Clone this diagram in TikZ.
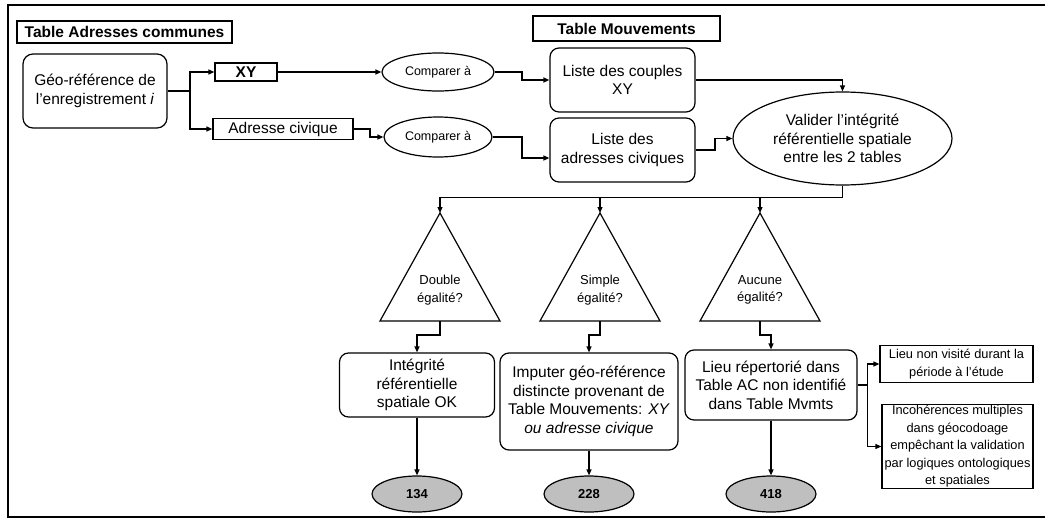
\documentclass[tikz,border=0pt]{standalone}
\usepackage{fontspec}
\setmainfont{Liberation Sans}
\usetikzlibrary{arrows.meta,shapes.geometric}
\begin{document}
\begin{tikzpicture}[x=1pt,y=-1pt,
  line width=1.2pt,
  font=\fontsize{15.5}{18.5}\selectfont,
  arr/.style={-{Triangle[length=6pt,width=5pt]}},
  box/.style={draw,rectangle,inner sep=1pt,align=center},
  rbox/.style={box,rounded corners=9pt},
  title/.style={box,font=\fontsize{15.5}{18}\selectfont\bfseries},
  cmp/.style={draw,ellipse,inner sep=0pt,align=center,font=\fontsize{12.5}{15}\selectfont},
  num/.style={draw,ellipse,fill=gray!50,inner sep=0pt,minimum width=90pt,minimum height=36pt,font=\fontsize{13}{15}\selectfont\bfseries},
  note/.style={box,font=\fontsize{12.8}{17.5}\selectfont},
  qtext/.style={align=center,inner sep=0pt,font=\fontsize{13}{17.5}\selectfont}]
\useasboundingbox (0,0) rectangle (1045,525);

% outer frame (open on the right)
\draw[line width=1.6pt] (1045,5) -- (8,5) -- (8,517) -- (1045,517);

% table titles
\node[title,minimum width=215pt,minimum height=22pt] (tac) at (124.5,32) {Table Adresses communes};
\node[title,minimum width=187pt,minimum height=25pt] (tmv) at (626.5,28.5) {Table Mouvements};

% source record and its two keys
\node[rbox,rounded corners=10pt,minimum width=144pt,minimum height=74pt] (geo) at (95,91)
  {Géo-référence de\\l'enregistrement \textit{i}};
\node[box,font=\fontsize{15.5}{18}\selectfont\bfseries,minimum width=62pt,minimum height=18pt] (xy) at (246,72) {XY};
\node[box,minimum width=140pt,minimum height=21pt] (adr) at (283,129) {Adresse civique};

% comparisons
\node[cmp,minimum width=112pt,minimum height=38pt] (cmp1) at (438,72) {Comparer à};
\node[cmp,minimum width=108pt,minimum height=40pt] (cmp2) at (438,137) {Comparer à};

% lists from the movements table
\node[rbox,minimum width=145pt,minimum height=64pt] (lxy) at (622.5,80) {Liste des couples\\XY};
\node[rbox,minimum width=145pt,minimum height=64pt] (lad) at (622.5,150) {Liste des\\adresses civiques};

% validation
\node[draw,ellipse,inner sep=0pt,align=center,minimum width=219pt,minimum height=93pt] (big) at (842.5,138.5)
  {Valider l'intégrité\\référentielle spatiale\\entre les 2 tables};

% decision triangles
\coordinate (t1a) at (440,213); \coordinate (t1b) at (440,321);
\coordinate (t2a) at (600,213); \coordinate (t2b) at (600,321);
\coordinate (t3a) at (760,213); \coordinate (t3b) at (760,321);
\draw (t1a) -- ++(60,108) -- ++(-120,0) -- cycle;
\draw (t2a) -- ++(60,108) -- ++(-120,0) -- cycle;
\draw (t3a) -- ++(60,108) -- ++(-120,0) -- cycle;
\node[qtext] (q1) at (440,290) {Double\\égalité?};
\node[qtext] (q2) at (600,290) {Simple\\égalité?};
\node[qtext] (q3) at (760,290) {Aucune\\égalité?};

% outcomes
\node[rbox,minimum width=155pt,minimum height=64pt] (res1) at (417,385)
  {Intégrité\\référentielle\\spatiale OK};
\node[rbox,minimum width=178pt,minimum height=97pt] (res2) at (589,401.5)
  {Imputer géo-référence\\distincte provenant de\\Table Mouvements: \textit{XY}\\\textit{ou adresse civique}};
\node[rbox,minimum width=172pt,minimum height=70pt] (res3) at (771,385)
  {Lieu répertorié dans\\Table AC non identifié\\dans Table Mvmts};

\node[note,minimum width=153pt,minimum height=37pt] (r1) at (956.5,364)
  {Lieu non visité durant la\\période à l'étude};
\node[note,minimum width=151pt,minimum height=77pt] (r2) at (957.5,446.5)
  {Incohérences multiples\\dans géocodoage\\empêchant la validation\\par logiques ontologiques\\et spatiales};

% counts
\node[num] (n134) at (417,494) {134};
\node[num] (n228) at (589,494) {228};
\node[num] (n418) at (771,494) {418};

% connectors
\coordinate (split) at (190,91);
\draw (geo.east) -- (split);
\draw[arr] (split) |- (xy.west);
\draw[arr] (split) |- (adr.west);
\draw[arr] (xy.east) -- (cmp1.west);
\draw[arr] (adr.east) -- (370,129) |- (cmp2.west);
\draw[arr] (cmp1.east) -- (522,72) |- (lxy.west);
\draw[arr] (cmp2.east) -- (522,137) |- ([yshift=-8pt]lad.west);
\draw[arr] (lxy.east) -| (big.north);
\draw[arr] (lad.east) -- (715,150) |- (big.west);
\draw[arr] (big.south) -- ++(0,12) -| (t1a);
\draw[arr] (big.south) -- ++(0,12) -| (t2a);
\draw[arr] (big.south) -- ++(0,12) -| (t3a);
\draw[arr] (t1b) -- ++(0,14) -| (res1.north);
\draw[arr] (t2b) -- ++(0,14) -| (res2.north);
\draw[arr] (t3b) -- ++(0,14) -| (res3.north);
\draw[arr] (res1.south) -- (n134.north);
\draw[arr] (res2.south) -- (n228.north);
\draw[arr] (res3.south) -- (n418.north);
\draw[arr] (res3.east) -- ++(10,0) |- (r1.west);
\draw[arr] (res3.east) -- ++(10,0) |- (r2.west);
\end{tikzpicture}
\end{document}
